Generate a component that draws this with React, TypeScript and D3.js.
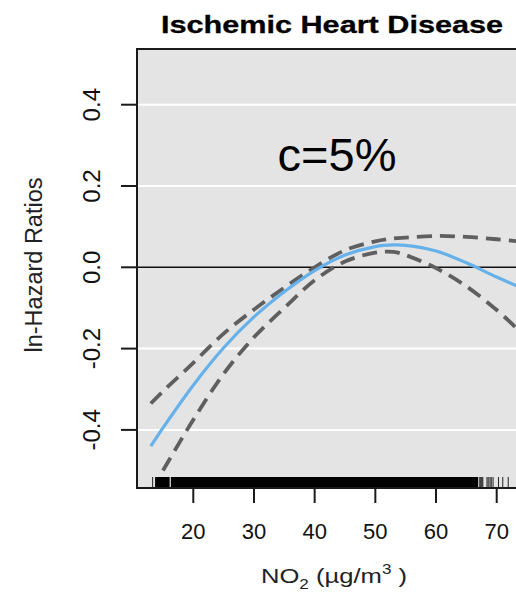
import React from "react";
import * as d3 from "d3";

// NO2 values (µg/m3) where the curves were read
const no2 = [13, 15, 20, 25, 30, 35, 40, 45, 50, 53, 55, 60, 65, 70, 74];
// fitted ln-HR and its band (NaN = outside the panel)
const fit = [-0.44, -0.395, -0.29, -0.198, -0.122, -0.06, -0.008, 0.03, 0.051, 0.055, 0.054, 0.04, 0.011, -0.024, -0.05];
const upper = [-0.335, -0.305, -0.235, -0.163, -0.104, -0.05, 0.0, 0.042, 0.064, 0.071, 0.073, 0.077, 0.075, 0.069, 0.063];
const lower = [NaN, -0.5, -0.375, -0.262, -0.172, -0.1, -0.032, 0.014, 0.036, 0.038, 0.03, -0.002, -0.047, -0.105, -0.16];

const xTicks = [20, 30, 40, 50, 60, 70];
const yTicks = [-0.4, -0.2, 0.0, 0.2, 0.4];
const gridVals = [-0.4, -0.2, 0.2, 0.4];

// rug: dense blocks and single observations
const rugBlocks = [[13.7, 16.1], [16.3, 66.95]];
const rugFaint = [[67.1, 67.8]];
const rugSingles = [13.3, 68.4, 68.6, 68.9, 69.1, 69.4, 70.3, 71.0, 71.9];

const W = 516;
const H = 595;
const left = 137;
const top = 49;
const bottom = 488;

export default function App() {
  const x = d3.scaleLinear().domain([20, 70]).range([193.3, 496.7]);
  const y = d3.scaleLinear().domain([0, 0.2]).range([267.3, 186]);

  const mk = (vals: number[]) =>
    d3
      .line<number>()
      .defined((d) => !isNaN(d))
      .x((_, i) => x(no2[i]))
      .y((d) => y(d))
      .curve(d3.curveCatmullRom)(vals) || "";

  const font = "'Liberation Sans', Arial, sans-serif";
  const rugTop = bottom - 11;

  return (
    <svg width={W} height={H} style={{ position: "absolute", left: 0, top: 0 }}>
      <defs>
        <clipPath id="panel">
          <rect x={left} y={top} width={W - left} height={bottom - top} />
        </clipPath>
      </defs>
      <rect x={0} y={0} width={W} height={H} fill="#fff" />
      <g transform="translate(332,33) scale(1.25,1)">
        <text
          x={0}
          y={0}
          textAnchor="middle"
          fontFamily={font}
          fontWeight="bold"
          fontSize={24.5}
          stroke="#000"
          strokeWidth={0.3}
        >
          Ischemic Heart Disease
        </text>
      </g>

      <rect x={left} y={top} width={W - left} height={bottom - top} fill="#e4e4e4" />
      {gridVals.map((v) => (
        <line key={v} x1={left} x2={W} y1={y(v)} y2={y(v)} stroke="#fff" strokeWidth={2} />
      ))}
      <line x1={left} x2={W} y1={y(0)} y2={y(0)} stroke="#111" strokeWidth={1.6} />

      <text x={337} y={171} textAnchor="middle" fontFamily={font} fontSize={47}>
        c=5%
      </text>

      <g clipPath="url(#panel)" fill="none" strokeLinecap="butt">
        <path d={mk(upper)} stroke="#5f5f5f" strokeWidth={3.8} strokeDasharray="15 8" />
        <path d={mk(lower)} stroke="#5f5f5f" strokeWidth={3.8} strokeDasharray="15 8" />
        <path d={mk(fit)} stroke="#66b1ea" strokeWidth={3.2} />
      </g>

      {rugBlocks.map(([a, b], i) => (
        <rect key={"b" + i} x={x(a)} y={rugTop} width={x(b) - x(a)} height={bottom - rugTop} fill="#000" />
      ))}
      {rugFaint.map(([a, b], i) => (
        <rect key={"f" + i} x={x(a)} y={rugTop} width={x(b) - x(a)} height={bottom - rugTop} fill="#444" />
      ))}
      {rugSingles.map((v, i) => (
        <line key={"s" + i} x1={x(v)} x2={x(v)} y1={rugTop} y2={bottom} stroke="#222" strokeWidth={1} />
      ))}

      {/* panel border */}
      <path d={`M${W},${top}H${left}V${bottom}H${W}`} fill="none" stroke="#1a1a1a" strokeWidth={2} />

      {/* y axis */}
      {yTicks.map((v) => (
        <g key={v}>
          <line x1={121} x2={left} y1={y(v)} y2={y(v)} stroke="#1a1a1a" strokeWidth={2} />
          <text
            transform={`translate(100,${y(v)}) rotate(-90)`}
            textAnchor="middle"
            fontFamily={font}
            fontSize={24}
            fill="#111"
          >
            {v.toFixed(1)}
          </text>
        </g>
      ))}
      <text
        transform={`translate(42,265) rotate(-90)`}
        textAnchor="middle"
        fontFamily={font}
        fontSize={23.5}
        fill="#222"
      >
        ln-Hazard Ratios
      </text>

      {/* x axis */}
      {xTicks.map((v) => (
        <g key={v}>
          <line x1={x(v)} x2={x(v)} y1={bottom} y2={503} stroke="#1a1a1a" strokeWidth={2} />
          <text x={x(v)} y={538.5} textAnchor="middle" fontFamily={font} fontSize={22} fill="#111">
            {v}
          </text>
        </g>
      ))}
      <g transform="translate(334,583) scale(1.22,1)">
        <text x={0} y={0} textAnchor="middle" fontFamily={font} fontSize={21} fill="#222">
          NO<tspan fontSize={14} dy={6}>2</tspan>
          <tspan dy={-6}> (µg/m</tspan>
          <tspan fontSize={14} dy={-9}>3</tspan>
          <tspan dy={9}> )</tspan>
        </text>
      </g>
    </svg>
  );
}
